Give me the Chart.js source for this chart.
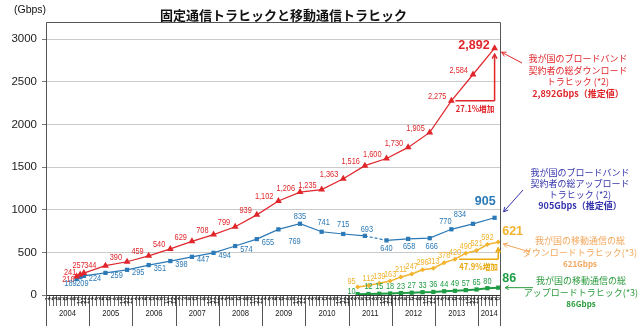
<!DOCTYPE html>
<html>
<head>
<meta charset="utf-8">
<script src="https://cdn.jsdelivr.net/npm/chart.js@4.4.0/dist/chart.umd.min.js"></script>
<style>
  html, body { margin: 0; padding: 0; background: #fff; }
</style>
</head>
<body>
<canvas id="trafficChart" width="640" height="326"></canvas>
<script>
// Fixed broadband traffic, half-yearly survey points
const fixedDates = ['2004-09', '2004-10', '2004-11', '2005-05', '2005-11', '2006-05', '2006-11',
  '2007-05', '2007-11', '2008-05', '2008-11', '2009-05', '2009-11', '2010-05', '2010-11',
  '2011-05', '2011-11', '2012-05', '2012-11', '2013-05', '2013-11', '2014-05'];
const fixedDown = [216, 241, 257, 344, 390, 459, 540, 629, 708, 799, 939, 1102, 1206, 1235, 1363,
  1516, 1600, 1730, 1905, 2275, 2584, 2892];
const fixedUp = [189, 209, 224, 259, 295, 351, 398, 447, 494, 574, 655, 769, 835, 741, 715,
  693, 640, 658, 666, 770, 834, 905];

// Mobile traffic, quarterly
const mobileDates = ['2011-03', '2011-06', '2011-09', '2011-12', '2012-03', '2012-06', '2012-09',
  '2012-12', '2013-03', '2013-06', '2013-09', '2013-12', '2014-03', '2014-06'];
const mobileDown = [95, 112, 139, 163, 211, 247, 296, 313, 378, 420, 490, 521, 592, 621];
const mobileUp = [10, 12, 15, 18, 23, 27, 33, 36, 44, 49, 57, 65, 80, 86];

const years = ['2004', '2005', '2006', '2007', '2008', '2009', '2010', '2011', '2012', '2013', '2014'];
const axisStart = '2004-01';
const axisEnd = '2014-06';
const yMax = 3000;
const yStep = 500;

const RED = '#e0262b';
const BLUE = '#2b79b6';
const YELLOW = '#f2b32e';
const GREEN = '#1f9d45';
const JP = '"Noto Sans CJK JP", sans-serif';
const NUM = '"Liberation Sans", Arial, sans-serif';
const FRAME_TOP = 22;

function monthIndex(d) {
  const [y, m] = d.split('-').map(Number);
  const [y0, m0] = axisStart.split('-').map(Number);
  return (y - y0) * 12 + (m - m0);
}
const monthPos = d => monthIndex(d) + 0.5;
const toPoints = (dates, values) => dates.map((d, i) => ({ x: monthPos(d), y: values[i] }));
const fmt = v => v.toLocaleString('en-US');

// where each value label sits relative to its point
const labelStyles = [
  { color: RED, base: { align: 'right', dx: -5, dy: -4 },
    at: { 0: { dx: -2, dy: 3 }, 1: { dx: -4, dy: -2 }, 2: { dx: 1, dy: -8 }, 3: { dx: -9, dy: 0 },
          21: { dx: -5, dy: -3, big: true } } },
  { color: BLUE, base: { align: 'left', dx: 5, dy: 3 },
    at: { 0: { align: 'right', dx: 0, dy: 5 }, 1: { dx: -4, dy: 6 }, 11: { dx: 10, dy: 12 },
          12: { align: 'center', dx: 0, dy: -7 }, 13: { align: 'center', dx: 2, dy: -9 },
          14: { align: 'center', dx: 0, dy: -9 }, 15: { align: 'center', dx: 2, dy: -6 },
          16: { align: 'center', dx: 0, dy: 8 }, 17: { align: 'center', dx: 1, dy: 8 },
          18: { align: 'center', dx: 2, dy: 8 }, 19: { align: 'center', dx: -6, dy: -8 },
          20: { align: 'center', dx: -13, dy: -9 },
          21: { align: 'right', dx: 1, dy: -16, big: true } } },
  { color: YELLOW, base: { align: 'center', dx: 0, dy: -7 },
    at: { 0: { align: 'right', dx: -2, dy: -5 }, 13: { align: 'left', dx: 4, dy: -10, big: true } } },
  { color: GREEN, base: { align: 'center', dx: 0, dy: -7 },
    at: { 0: { align: 'right', dx: -2, dy: -3 }, 13: { align: 'left', dx: 4, dy: -9, big: true } } }
];

function squeezed(ctx, text, x, y, align, sx) {
  ctx.save();
  ctx.translate(x, y);
  ctx.scale(sx, 1);
  ctx.textAlign = align;
  ctx.fillText(text, 0, 0);
  ctx.restore();
}

function arrow(ctx, x1, y1, x2, y2, color, head, width) {
  ctx.save();
  ctx.strokeStyle = color;
  ctx.lineWidth = width || 1;
  ctx.beginPath();
  ctx.moveTo(x1, y1);
  ctx.lineTo(x2, y2);
  ctx.stroke();
  const a = Math.atan2(y2 - y1, x2 - x1);
  ctx.beginPath();
  ctx.moveTo(x2 - head * Math.cos(a - 0.5), y2 - head * Math.sin(a - 0.5));
  ctx.lineTo(x2, y2);
  ctx.lineTo(x2 - head * Math.cos(a + 0.5), y2 - head * Math.sin(a + 0.5));
  ctx.stroke();
  ctx.restore();
}

const valueLabels = {
  id: 'valueLabels',
  afterDatasetsDraw(chart) {
    const ctx = chart.ctx;
    ctx.save();
    ctx.textBaseline = 'middle';
    chart.data.datasets.forEach((ds, i) => {
      const st = labelStyles[i];
      chart.getDatasetMeta(i).data.forEach((pt, j) => {
        const o = Object.assign({}, st.base, st.at[j] || {});
        ctx.fillStyle = st.color;
        if (o.big) {
          ctx.font = 'bold 12.5px ' + NUM;
          squeezed(ctx, fmt(ds.data[j].y), pt.x + o.dx, pt.y + o.dy, o.align, 1);
        } else {
          ctx.font = '9px ' + NUM;
          squeezed(ctx, fmt(ds.data[j].y), pt.x + o.dx, pt.y + o.dy, o.align, 0.82);
        }
      });
    });
    ctx.restore();
  }
};

const frame = {
  id: 'frame',
  beforeDatasetsDraw(chart) {
    const { ctx, chartArea: a, scales: { x } } = chart;
    const bottom = chart.height;
    ctx.save();
    ctx.strokeStyle = '#555';
    ctx.lineWidth = 1;
    ctx.beginPath();
    ctx.moveTo(a.left + 0.5, bottom);
    ctx.lineTo(a.left + 0.5, FRAME_TOP + 0.5);
    ctx.lineTo(a.right + 0.5, FRAME_TOP + 0.5);
    ctx.lineTo(a.right + 0.5, bottom);
    ctx.stroke();
    // year separators and year names under the month ticks
    ctx.font = '8.5px ' + NUM;
    ctx.fillStyle = '#222';
    ctx.textBaseline = 'middle';
    const endPos = monthIndex(axisEnd) + 1;
    years.forEach((y, k) => {
      const s = k * 12, e = Math.min(s + 12, endPos);
      const xs = Math.round(x.getPixelForValue(s)) + 0.5;
      if (k > 0) {
        ctx.beginPath();
        ctx.moveTo(xs, a.bottom);
        ctx.lineTo(xs, bottom);
        ctx.stroke();
      }
      squeezed(ctx, y, x.getPixelForValue((s + e) / 2), 314, 'center', 0.9);
    });
    ctx.restore();
  },
  afterDraw(chart) {
    const ctx = chart.ctx;
    ctx.save();
    // title and unit
    ctx.fillStyle = '#111';
    ctx.textBaseline = 'middle';
    ctx.textAlign = 'left';
    ctx.font = 'bold 13px ' + JP;
    ctx.fillText('固定通信トラヒックと移動通信トラヒック', 160, 15);
    ctx.font = '10.5px ' + NUM;
    ctx.fillText('(Gbps)', 14, 10);

    const m = i => chart.getDatasetMeta(i).data;
    const dn = m(0), up = m(1), mdn = m(2), mup = m(3);

    // growth brackets
    const growth = (pts, from, to, color, text, ty) => {
      const p0 = pts[from], p1 = pts[to];
      ctx.strokeStyle = color;
      ctx.lineWidth = 1.5;
      ctx.beginPath();
      ctx.moveTo(p0.x + 4, p0.y);
      ctx.lineTo(p1.x, p0.y);
      ctx.stroke();
      arrow(ctx, p1.x, p0.y, p1.x, p1.y + 6, color, 5, 1.5);
      ctx.fillStyle = color;
      ctx.font = 'bold 8.5px ' + JP;
      squeezed(ctx, text, (p0.x + p1.x) / 2 + 2, p0.y + ty, 'center', 0.9);
    };
    growth(dn, 19, 21, RED, '27.1%増加', 8);
    growth(mdn, 9, 13, '#e9a90f', '47.9%増加', 8);

    // side notes with pointers to each series' latest value
    const note = (lines, color, cx, y0, lh) => {
      ctx.fillStyle = color;
      ctx.textAlign = 'center';
      lines.forEach((ln, k) => {
        ctx.font = (ln.bold ? 'bold ' : '') + (ln.size || 9) + 'px ' + JP;
        ctx.fillText(ln.t, cx, y0 + k * lh);
      });
    };
    const last = pts => pts[pts.length - 1];
    note([{ t: '我が国のブロードバンド' }, { t: '契約者の総ダウンロード' }, { t: 'トラヒック (*2)' },
          { t: '2,892Gbps（推定値）', bold: true }], RED, 578, 59, 11.5);
    arrow(ctx, 522, 63, last(dn).x + 7, last(dn).y + 4, RED, 5);

    note([{ t: '我が国のブロードバンド' }, { t: '契約者の総アップロード' }, { t: 'トラヒック (*2)' },
          { t: '905Gbps（推定値）', bold: true }], '#3434ad', 580, 173, 11);
    arrow(ctx, 523, 190, last(up).x + 9, last(up).y - 6, '#3434ad', 5);

    note([{ t: '我が国の移動通信の総' }, { t: 'ダウンロードトラヒック(*3)' },
          { t: '621Gbps', bold: true, size: 8 }], '#f2a65a', 580, 241, 11.5);
    arrow(ctx, 530, 252, last(mdn).x + 5, last(mdn).y + 2, '#f2a65a', 5);

    note([{ t: '我が国の移動通信の総' }, { t: 'アップロードトラヒック(*3)' },
          { t: '86Gbps', bold: true, size: 8 }], '#2a9a3c', 581, 281, 11.5);
    arrow(ctx, 533, last(mup).y, last(mup).x + 7, last(mup).y, '#2a9a3c', 4);
    ctx.restore();
  }
};

const ctx = document.getElementById('trafficChart').getContext('2d');
new Chart(ctx, {
  type: 'line',
  data: {
    datasets: [
      { data: toPoints(fixedDates, fixedDown), borderColor: RED, backgroundColor: RED,
        borderWidth: 1.2, pointStyle: 'triangle', pointRadius: 4, pointBorderWidth: 0, clip: false },
      { data: toPoints(fixedDates, fixedUp), borderColor: BLUE, backgroundColor: BLUE,
        borderWidth: 1.2, pointStyle: 'rect', pointRadius: 3, pointBorderWidth: 0,
        segment: { borderDash: c => c.p0DataIndex === 15 ? [3, 2] : undefined } },
      { data: toPoints(mobileDates, mobileDown), borderColor: YELLOW, backgroundColor: YELLOW,
        borderWidth: 1.5, pointStyle: 'rectRot', pointRadius: 2.5, pointBorderWidth: 0 },
      { data: toPoints(mobileDates, mobileUp), borderColor: GREEN, backgroundColor: GREEN,
        borderWidth: 2, pointStyle: 'rect', pointRadius: 3, pointBorderWidth: 0 }
    ]
  },
  options: {
    responsive: false,
    animation: false,
    events: [],
    layout: { padding: { left: 0, right: 140, top: 39, bottom: 0 } },
    plugins: { legend: { display: false }, tooltip: { enabled: false }, title: { display: false } },
    scales: {
      x: {
        type: 'linear',
        min: 0,
        max: monthIndex(axisEnd) + 1,
        afterBuildTicks: s => {
          const t = [];
          for (let i = 0; i <= monthIndex(axisEnd); i++) t.push({ value: i + 0.5 });
          s.ticks = t;
        },
        afterFit: s => { s.height = 31; },
        border: { display: true, color: '#333', width: 1 },
        grid: { display: true, drawOnChartArea: false, drawTicks: true, tickLength: 11,
                offset: true, color: '#444', lineWidth: 0.8 },
        ticks: {
          autoSkip: false, maxRotation: 90, minRotation: 90, padding: -9,
          color: '#222', font: { family: NUM, size: 6.5 },
          callback: v => String(Math.floor(v) % 12 + 1)
        }
      },
      y: {
        min: 0,
        max: yMax,
        afterFit: s => { s.width = 46; },
        border: { display: false },
        grid: { color: '#bdbdbd', lineWidth: 0.8, borderDash: [1, 2], tickLength: 4,
                tickColor: '#555', tickBorderDash: [] },
        ticks: { stepSize: yStep, padding: 5, color: '#222', font: { family: NUM, size: 11.5 },
                 callback: v => String(v) }
      }
    }
  },
  plugins: [frame, valueLabels]
});
</script>
</body>
</html>
